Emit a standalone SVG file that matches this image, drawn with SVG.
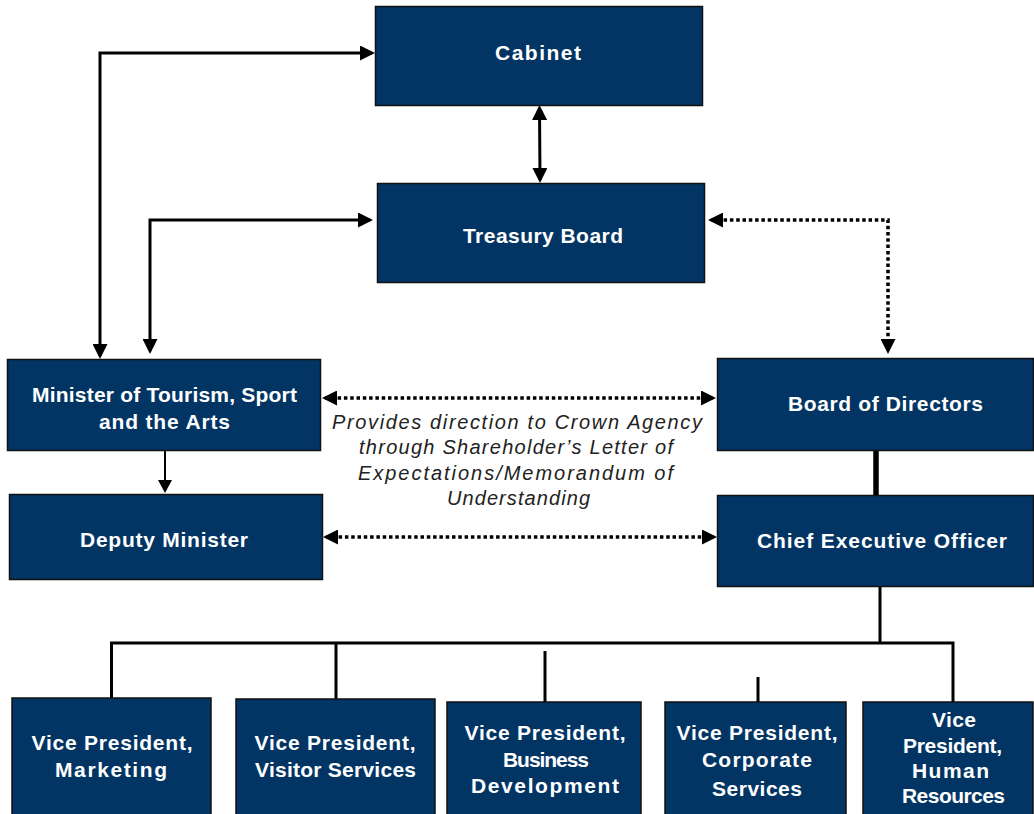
<svg xmlns="http://www.w3.org/2000/svg" width="1034" height="814" viewBox="0 0 1034 814">
<style>
.box{fill:#023564;stroke:#111;stroke-width:1.5}
.t{font-family:"Liberation Sans",Arial,sans-serif;font-weight:bold;font-size:21px;fill:#fff;text-anchor:middle}
.n{font-family:"Liberation Sans",Arial,sans-serif;font-style:italic;font-size:20px;fill:#222;text-anchor:middle}
.c{fill:none;stroke:#000;stroke-width:3}
.d{fill:none;stroke:#000;stroke-width:3.5;stroke-dasharray:3.5 2.8}
</style>
<defs>
<marker id="ah" markerUnits="userSpaceOnUse" markerWidth="15" markerHeight="15" refX="12" refY="7.5" orient="auto-start-reverse" viewBox="0 0 15 15">
<path d="M0,0 L15,7.5 L0,15 z" fill="#000"/>
</marker>
<marker id="ahs" markerUnits="userSpaceOnUse" markerWidth="15" markerHeight="14" refX="10" refY="7" orient="auto" viewBox="0 0 13 14">
<path d="M0,0 L13,7 L0,14 z" fill="#000"/>
</marker>
</defs>

<g id="connectors">
<path class="c" d="M100,356 V53 H372" marker-start="url(#ah)" marker-end="url(#ah)"/>
<path class="c" d="M150,351 V220 H370" marker-start="url(#ah)" marker-end="url(#ah)"/>
<path class="c" d="M539.5,108 L540,180" marker-start="url(#ah)" marker-end="url(#ah)"/>
<path class="d" d="M711,220 H888 V351" marker-start="url(#ah)" marker-end="url(#ah)"/>
<path class="d" d="M325,398 H713" marker-start="url(#ah)" marker-end="url(#ah)"/>
<path class="d" d="M326,537 H714" marker-start="url(#ah)" marker-end="url(#ah)"/>
<path fill="none" stroke="#000" stroke-width="2" d="M165,437 V490" marker-end="url(#ahs)"/>
<path fill="none" stroke="#000" stroke-width="5.5" d="M876,451 V496"/>
<path class="c" d="M880,586 V643"/>
<path class="c" d="M111.5,698 V643 H953 V702"/>
<path class="c" d="M336,643 V699"/>
<path class="c" d="M545,651 V702"/>
<path class="c" d="M758,677 V702"/>
</g>

<g id="cabinet">
<rect class="box" x="375.5" y="6.5" width="327" height="99"/>
<text class="t" x="538" y="60" textLength="86">Cabinet</text>
</g>
<g id="treasury-board">
<rect class="box" x="377.5" y="183.5" width="327" height="99"/>
<text class="t" x="543" y="243" textLength="160">Treasury Board</text>
</g>
<g id="minister">
<rect class="box" x="7.5" y="359.5" width="313" height="91"/>
<text class="t" x="164.5" y="402" textLength="265">Minister of Tourism, Sport</text>
<text class="t" x="164.5" y="429" textLength="131">and the Arts</text>
</g>
<g id="deputy-minister">
<rect class="box" x="9.5" y="494.5" width="313" height="85"/>
<text class="t" x="164" y="547" textLength="168">Deputy Minister</text>
</g>
<g id="board-of-directors">
<rect class="box" x="717.5" y="358.5" width="316" height="92"/>
<text class="t" x="885.5" y="411" textLength="195">Board of Directors</text>
</g>
<g id="ceo">
<rect class="box" x="717.5" y="495.5" width="316" height="91"/>
<text class="t" x="882" y="548" textLength="250">Chief Executive Officer</text>
</g>

<g id="note">
<text class="n" x="517" y="429" textLength="370">Provides direction to Crown Agency</text>
<text class="n" x="516" y="454" textLength="314">through Shareholder’s Letter of</text>
<text class="n" x="515.5" y="480" textLength="315">Expectations/Memorandum of</text>
<text class="n" x="518.5" y="505" textLength="143">Understanding</text>
</g>

<g id="vp-marketing">
<rect class="box" x="12" y="698" width="199" height="125"/>
<text class="t" x="112" y="750" textLength="161">Vice President,</text>
<text class="t" x="111" y="777" textLength="112">Marketing</text>
</g>
<g id="vp-visitor-services">
<rect class="box" x="236" y="699" width="199" height="125"/>
<text class="t" x="335" y="750" textLength="161">Vice President,</text>
<text class="t" x="335.5" y="777" textLength="161">Visitor Services</text>
</g>
<g id="vp-business-development">
<rect class="box" x="447" y="702" width="194" height="125"/>
<text class="t" x="545" y="740" textLength="161">Vice President,</text>
<text class="t" x="546" y="767" textLength="86">Business</text>
<text class="t" x="545" y="793" textLength="148">Development</text>
</g>
<g id="vp-corporate-services">
<rect class="box" x="665" y="702" width="181" height="125"/>
<text class="t" x="757" y="740" textLength="161">Vice President,</text>
<text class="t" x="757" y="767" textLength="110">Corporate</text>
<text class="t" x="757" y="796" textLength="90">Services</text>
</g>
<g id="vp-human-resources">
<rect class="box" x="863" y="702" width="170" height="125"/>
<text class="t" x="954" y="727" textLength="44">Vice</text>
<text class="t" x="952.5" y="753" textLength="99">President,</text>
<text class="t" x="950.5" y="778" textLength="77">Human</text>
<text class="t" x="953.5" y="803" textLength="103">Resources</text>
</g>
</svg>
